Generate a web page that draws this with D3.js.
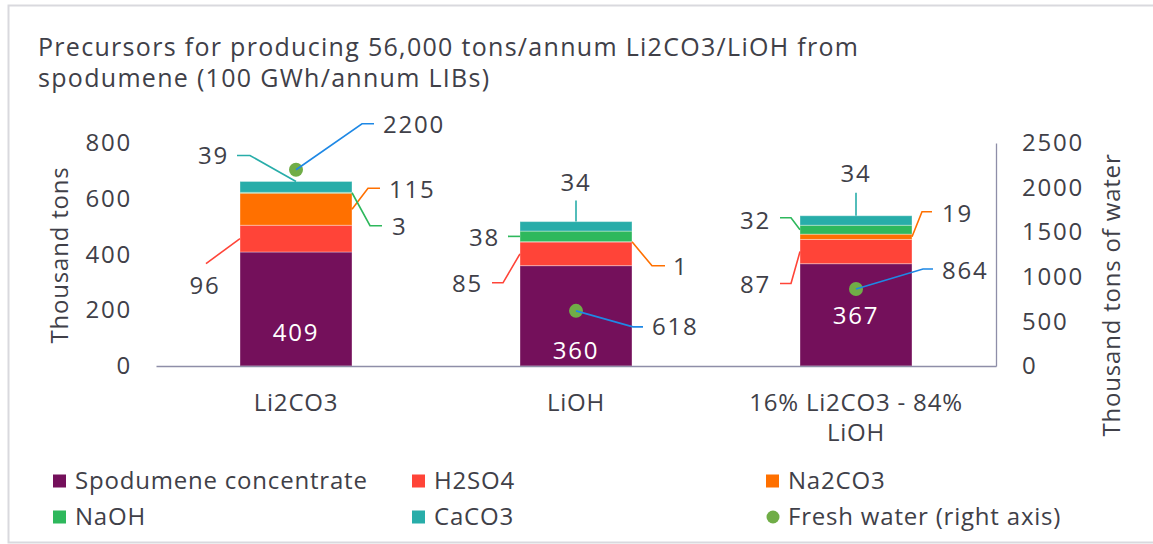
<!DOCTYPE html>
<html>
<head>
<meta charset="utf-8">
<script src="https://cdn.jsdelivr.net/npm/d3@7"></script>
<style>
  body { margin: 0; background: #fff; }
  text { font-family: "Open Sans", sans-serif; fill: #404048; }
</style>
</head>
<body>
<div class="vis"></div>
<script>
// categories and series
const categories = ["Li2CO3", "LiOH", "16% Li2CO3 - 84% LiOH"];
const seriesNames = ["Spodumene concentrate", "H2SO4", "Na2CO3", "NaOH", "CaCO3"];
const spodumene = [409, 360, 367];
const h2so4 = [96, 85, 87];
const na2co3 = [115, 1, 19];
const naoh = [3, 38, 32];
const caco3 = [39, 34, 34];
const freshWater = [2200, 618, 864];
const leftTicks = [0, 200, 400, 600, 800];
const rightTicks = [0, 500, 1000, 1500, 2000, 2500];

const colors = ["#74105b", "#ff4438", "#ff7000", "#2eb85c", "#28ada9"];
const waterColor = "#70ad47";
const waterLeader = "#1e88e5";

const width = 1153, height = 544;
const plot = { left: 156, right: 996, top: 143, bottom: 366 };
const numSpacing = "1.8px";
const textSpacing = "0.8px";

const svg = d3.select(".vis")
  .append("svg")
  .attr("width", width)
  .attr("height", height);

// outer frame
svg.append("rect")
  .attr("x", 8.5).attr("y", 5.5)
  .attr("width", width).attr("height", 537)
  .attr("fill", "none")
  .attr("stroke", "#d9d9de")
  .attr("stroke-width", 2);

// title
svg.append("text")
  .attr("x", 38).attr("y", 56)
  .style("font-size", "25px")
  .style("letter-spacing", "1.3px")
  .text("Precursors for producing 56,000 tons/annum Li2CO3/LiOH from");
svg.append("text")
  .attr("x", 38).attr("y", 87)
  .style("font-size", "25px")
  .style("letter-spacing", "1.3px")
  .text("spodumene (100 GWh/annum LIBs)");

// scales
const x = d3.scaleBand().domain(categories).range([plot.left, plot.right]).paddingInner(0.6).paddingOuter(0.3);
const y = d3.scaleLinear().domain([0, 800]).range([plot.bottom, plot.top]);
const y2 = d3.scaleLinear().domain([0, 2500]).range([plot.bottom, plot.top]);

// stacked data
const table = categories.map((c, i) => ({
  cat: c,
  "Spodumene concentrate": spodumene[i],
  "H2SO4": h2so4[i],
  "Na2CO3": na2co3[i],
  "NaOH": naoh[i],
  "CaCO3": caco3[i]
}));
const stacked = d3.stack().keys(seriesNames)(table);

// bars
svg.append("g").selectAll("g")
  .data(stacked)
  .enter().append("g")
  .attr("fill", (d, i) => colors[i])
  .selectAll("rect")
  .data(d => d)
  .enter().append("rect")
  .attr("x", d => x(d.data.cat))
  .attr("width", x.bandwidth())
  .attr("y", d => y(d[1]))
  .attr("height", d => y(d[0]) - y(d[1]))
  .attr("stroke", "#ffffff")
  .attr("stroke-opacity", 0.35)
  .attr("stroke-width", 1);

// left axis (labels only)
const leftAxis = svg.append("g")
  .attr("transform", "translate(" + (plot.left - 24) + ",0)")
  .call(d3.axisLeft(y).tickValues(leftTicks).tickSize(0).tickPadding(0));
leftAxis.select(".domain").remove();
leftAxis.selectAll("text")
  .style("font-size", "24px").style("font-family", "Open Sans")
  .style("letter-spacing", numSpacing).attr("fill", "#404048");

// right axis
const rightAxis = svg.append("g")
  .attr("transform", "translate(" + plot.right + ",0)")
  .call(d3.axisRight(y2).tickValues(rightTicks).tickFormat(d3.format("d")).tickSize(0).tickPadding(26));
rightAxis.select(".domain").attr("stroke", "#8e8ea8").attr("stroke-width", 1.3);
rightAxis.selectAll("text")
  .style("font-size", "24px").style("font-family", "Open Sans")
  .style("letter-spacing", numSpacing).attr("fill", "#404048");

// x axis, long category label wrapped on two lines
const xAxis = svg.append("g")
  .attr("transform", "translate(0," + plot.bottom + ")")
  .call(d3.axisBottom(x).tickSize(0).tickPadding(0));
xAxis.select(".domain").attr("stroke", "#8e8ea8").attr("stroke-width", 1.3);
xAxis.selectAll(".tick text").remove();
xAxis.selectAll(".tick").each(function(d) {
  const lines = d === "16% Li2CO3 - 84% LiOH" ? ["16% Li2CO3 - 84%", "LiOH"] : [d];
  lines.forEach((l, i) => {
    d3.select(this).append("text")
      .attr("x", 0)
      .attr("y", 37 + i * 30)
      .attr("dy", "0.35em")
      .attr("text-anchor", "middle")
      .style("font-size", "24px")
      .style("letter-spacing", textSpacing)
      .text(l);
  });
});

// axis titles
svg.append("text")
  .attr("transform", "translate(68,255) rotate(-90)")
  .attr("text-anchor", "middle")
  .style("font-size", "24px")
  .style("letter-spacing", textSpacing)
  .text("Thousand tons");
svg.append("text")
  .attr("transform", "translate(1120,295) rotate(-90)")
  .attr("text-anchor", "middle")
  .style("font-size", "24px")
  .style("letter-spacing", textSpacing)
  .text("Thousand tons of water");

// fresh water dots
svg.append("g").selectAll("circle")
  .data(freshWater)
  .enter().append("circle")
  .attr("cx", (d, i) => x(categories[i]) + x.bandwidth() / 2)
  .attr("cy", d => y2(d))
  .attr("r", 7)
  .attr("fill", waterColor);

// label layout: series index (-1 = fresh water), category index,
// anchor place, text offset and leader points relative to the anchor
const labelLayout = [
  { s: 4, c: 0, at: "top", tx: -67, ty: -26, ta: "end", lead: [[0, 0], [-46, -26], [-59, -26]] },
  { s: -1, c: 0, at: "dot", tx: 87, ty: -45, ta: "start", lead: [[0, 0], [66, -46], [78, -46]] },
  { s: 2, c: 0, at: "right", tx: 37, ty: -20, ta: "start", lead: [[0, 0], [16, -21], [28, -21]] },
  { s: 3, c: 0, at: "right", tx: 40, ty: 34, ta: "start", lead: [[0, 0], [18, 33], [30, 33]] },
  { s: 1, c: 0, at: "left", tx: -35, ty: 47, ta: "middle", lead: [[0, 0], [-34, 25]] },
  { s: 0, c: 0, at: "base", tx: 0, ty: -33, ta: "middle", inside: true },

  { s: 4, c: 1, at: "top", tx: 0, ty: -39, ta: "middle", lead: [[0, 0], [0, -21]] },
  { s: 3, c: 1, at: "left", tx: -20, ty: 1, ta: "end", lead: [[0, 0], [-12, 0]] },
  { s: 1, c: 1, at: "left", tx: -37, ty: 30, ta: "end", lead: [[0, 0], [-17, 29], [-28, 29]] },
  { s: 2, c: 1, at: "right", tx: 41, ty: 25, ta: "start", lead: [[0, 0], [20, 24], [33, 24]] },
  { s: -1, c: 1, at: "dot", tx: 76, ty: 16, ta: "start", lead: [[0, 0], [57, 16], [67, 16]] },
  { s: 0, c: 1, at: "base", tx: 0, ty: -15, ta: "middle", inside: true },

  { s: 4, c: 2, at: "top", tx: 0, ty: -42, ta: "middle", lead: [[0, 0], [0, -23]] },
  { s: 3, c: 2, at: "left", tx: -29, ty: -9, ta: "end", lead: [[0, 0], [-9, -12], [-20, -12]] },
  { s: 2, c: 2, at: "right", tx: 30, ty: -23, ta: "start", lead: [[0, 0], [10, -25], [20, -25]] },
  { s: 1, c: 2, at: "left", tx: -29, ty: 33, ta: "end", lead: [[0, 0], [-9, 32], [-20, 32]] },
  { s: -1, c: 2, at: "dot", tx: 86, ty: -18, ta: "start", lead: [[0, 0], [67, -20], [77, -20]] },
  { s: 0, c: 2, at: "base", tx: 0, ty: -50, ta: "middle", inside: true }
];

function anchorPoint(l) {
  const cat = categories[l.c];
  const cx = x(cat) + x.bandwidth() / 2;
  if (l.s === -1) return [cx, y2(freshWater[l.c])];
  const seg = stacked[l.s][l.c];
  const mid = y((seg[0] + seg[1]) / 2);
  if (l.at === "top") return [cx, y(seg[1])];
  if (l.at === "left") return [x(cat), mid];
  if (l.at === "right") return [x(cat) + x.bandwidth(), mid];
  return [cx, y(0)];
}

const labels = svg.append("g");
labelLayout.forEach(l => {
  const a = anchorPoint(l);
  const value = l.s === -1 ? freshWater[l.c] : stacked[l.s][l.c].data[seriesNames[l.s]];
  const lineColor = l.s === -1 ? waterLeader : colors[l.s];
  if (l.lead) {
    labels.append("path")
      .attr("d", d3.line()(l.lead.map(p => [a[0] + p[0], a[1] + p[1]])))
      .attr("fill", "none")
      .attr("stroke", lineColor)
      .attr("stroke-width", 1.6);
  }
  labels.append("text")
    .attr("x", a[0] + l.tx)
    .attr("y", a[1] + l.ty)
    .attr("dy", "0.35em")
    .attr("text-anchor", l.ta)
    .style("font-size", "24px")
    .style("letter-spacing", numSpacing)
    .style("fill", l.inside ? "#ffffff" : "#404048")
    .text(value);
});

// legend
const legendItems = seriesNames.map((n, i) => ({ name: n, color: colors[i], dot: false }))
  .concat([{ name: "Fresh water (right axis)", color: waterColor, dot: true }]);
const legendCols = [53, 412, 766];
const legendRows = [481, 517];

const legend = svg.append("g");
legendItems.forEach((d, i) => {
  const gx = legendCols[i % 3];
  const gy = legendRows[Math.floor(i / 3)];
  if (d.dot) {
    legend.append("circle").attr("cx", gx + 7).attr("cy", gy).attr("r", 6.5).attr("fill", d.color);
  } else {
    legend.append("rect").attr("x", gx).attr("y", gy - 6.5).attr("width", 13).attr("height", 13).attr("fill", d.color);
  }
  legend.append("text")
    .attr("x", gx + 22)
    .attr("y", gy)
    .attr("dy", "0.35em")
    .style("font-size", "24px")
    .style("letter-spacing", textSpacing)
    .text(d.name);
});
</script>
</body>
</html>
